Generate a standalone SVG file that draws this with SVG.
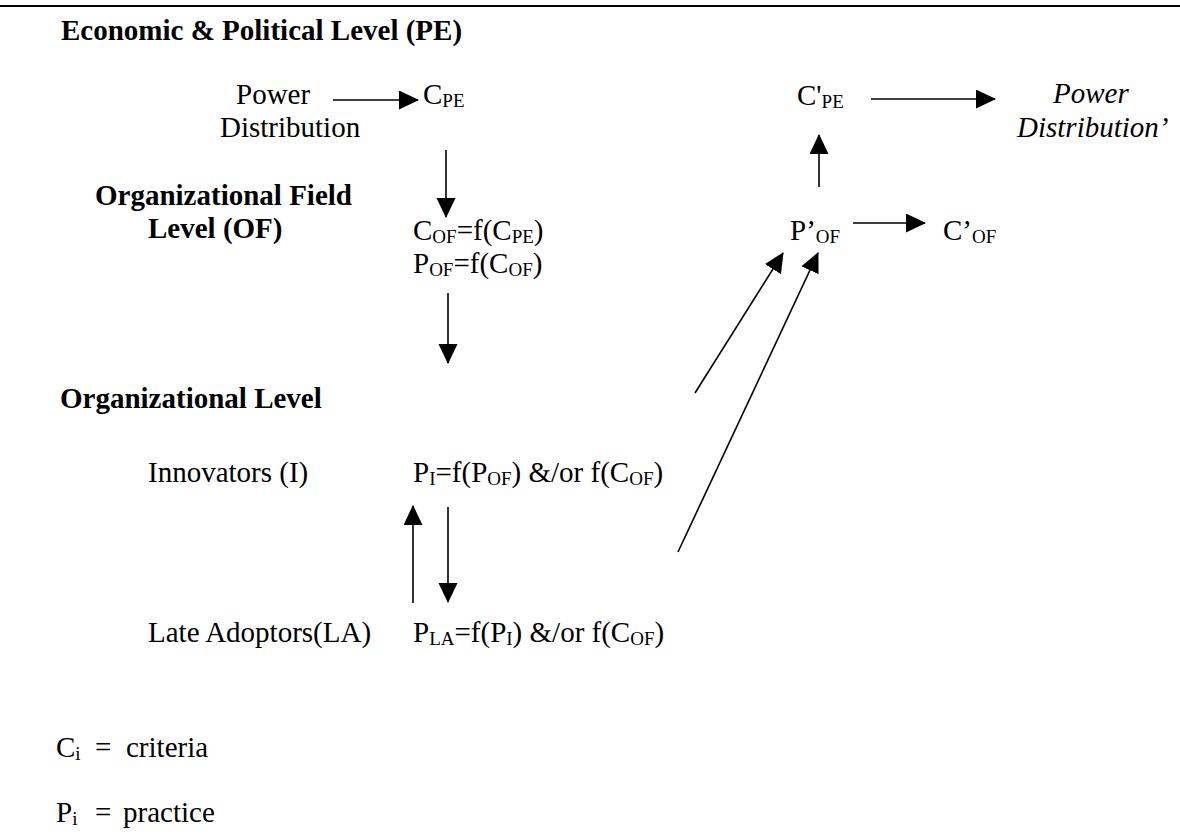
<svg xmlns="http://www.w3.org/2000/svg" width="1180" height="838" viewBox="0 0 1180 838">
<defs>
<style>
text{font-family:"Liberation Serif","Times New Roman",serif;font-size:29px;fill:#000}
.b{font-weight:bold}
.i{font-style:italic}
.s{font-size:19px}
.c line{stroke:#000;stroke-width:1.6;fill:none;marker-end:url(#ah)}
</style>
<marker id="ah" markerUnits="userSpaceOnUse" markerWidth="22" markerHeight="20" refX="19" refY="9.5" orient="auto">
<path d="M0,0 L20,9.5 L0,19 z" fill="#000"/>
</marker>
</defs>
<rect width="1180" height="838" fill="#fff"/>
<line x1="0" y1="6" x2="1180" y2="6" stroke="#000" stroke-width="2"/>
<g id="title-pe"><text class="b" x="61" y="40">Economic &amp; Political Level (PE)</text></g>
<g id="label-of"><text class="b" x="95" y="205">Organizational Field</text><text class="b" x="148" y="238">Level (OF)</text></g>
<g id="label-ol"><text class="b" x="60" y="408">Organizational Level</text></g>
<g id="power-dist"><text x="236" y="104">Power</text><text x="220" y="137">Distribution</text></g>
<g id="cpe"><text x="423" y="104">C<tspan class="s" dy="3">PE</tspan></text></g>
<g id="cof"><text x="413" y="240">C<tspan class="s" dy="3">OF</tspan><tspan dy="-3">=f(C</tspan><tspan class="s" dy="3">PE</tspan><tspan dy="-3">)</tspan></text></g>
<g id="pof"><text x="413" y="273">P<tspan class="s" dy="3">OF</tspan><tspan dy="-3">=f(C</tspan><tspan class="s" dy="3">OF</tspan><tspan dy="-3">)</tspan></text></g>
<g id="innovators"><text x="148" y="482">Innovators (I)</text></g>
<g id="pi"><text x="413" y="482">P<tspan class="s" dy="3">I</tspan><tspan dy="-3">=f(P</tspan><tspan class="s" dy="3">OF</tspan><tspan dy="-3">) &amp;/or f(C</tspan><tspan class="s" dy="3">OF</tspan><tspan dy="-3">)</tspan></text></g>
<g id="late-adoptors"><text x="148" y="642">Late Adoptors(LA)</text></g>
<g id="pla"><text x="413" y="642">P<tspan class="s" dy="3">LA</tspan><tspan dy="-3">=f(P</tspan><tspan class="s" dy="3">I</tspan><tspan dy="-3">) &amp;/or f(C</tspan><tspan class="s" dy="3">OF</tspan><tspan dy="-3">)</tspan></text></g>
<g id="cpe-prime"><text x="797" y="105">C'<tspan class="s" dy="3">PE</tspan></text></g>
<g id="power-dist-prime"><text class="i" x="1053" y="103">Power</text><text class="i" x="1017" y="137">Distribution’</text></g>
<g id="pof-prime"><text x="790" y="240">P’<tspan class="s" dy="3">OF</tspan></text></g>
<g id="cof-prime"><text x="943" y="240">C’<tspan class="s" dy="3">OF</tspan></text></g>
<g id="legend">
<text x="56" y="757">C<tspan class="s" dy="3">i</tspan><tspan x="95" dy="-3">=</tspan><tspan x="126">criteria</tspan></text>
<text x="56" y="822">P<tspan class="s" dy="3">i</tspan><tspan x="95" dy="-3">=</tspan><tspan x="123">practice</tspan></text>
</g>
<g id="connectors" class="c">
<line x1="333" y1="100" x2="418" y2="100"/>
<line x1="446" y1="150" x2="446" y2="217"/>
<line x1="448" y1="293" x2="448" y2="363"/>
<line x1="413" y1="603" x2="413" y2="506"/>
<line x1="448" y1="507" x2="448" y2="602"/>
<line x1="695" y1="393" x2="783" y2="253"/>
<line x1="678" y1="552" x2="818" y2="253"/>
<line x1="819" y1="187" x2="819" y2="135"/>
<line x1="871" y1="99" x2="995" y2="99"/>
<line x1="853" y1="223" x2="925" y2="223"/>
</g>
</svg>
